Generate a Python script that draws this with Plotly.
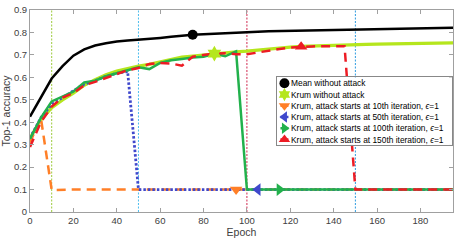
import plotly.graph_objects as go

# ---------------- data ----------------
epochs = [0, 5, 10, 15, 20, 25, 30, 35, 40, 45, 50, 55, 60, 65, 70, 75, 80, 85, 90, 95,
          100, 105, 110, 115, 120, 125, 130, 135, 140, 145, 150, 155, 160, 165, 170, 175, 180, 185, 190, 195]

mean_no_attack = [0.425, 0.51, 0.595, 0.65, 0.697, 0.725, 0.742, 0.752, 0.76, 0.764,
                  0.767, 0.772, 0.776, 0.781, 0.786, 0.79, 0.792, 0.795, 0.798, 0.80,
                  0.802, 0.804, 0.806, 0.807, 0.808, 0.809, 0.81, 0.812, 0.813, 0.814,
                  0.815, 0.816, 0.817, 0.818, 0.819, 0.819, 0.82, 0.82, 0.821, 0.821]

krum_no_attack = [0.33, 0.41, 0.465, 0.50, 0.53, 0.565, 0.59, 0.612, 0.628, 0.64,
                  0.65, 0.658, 0.668, 0.68, 0.69, 0.695, 0.70, 0.706, 0.71, 0.714,
                  0.717, 0.722, 0.727, 0.731, 0.735, 0.738, 0.740, 0.742, 0.744, 0.745,
                  0.746, 0.747, 0.748, 0.749, 0.750, 0.751, 0.752, 0.753, 0.754, 0.754]

krum_attack_10 = [0.31, 0.42, 0.098, 0.1, 0.1, 0.1, 0.1, 0.1, 0.1, 0.1,
                  0.1, 0.1, 0.1, 0.1, 0.1, 0.1, 0.1, 0.1, 0.1, 0.1,
                  0.1, 0.1, 0.1, 0.1, 0.1, 0.1, 0.1, 0.1, 0.1, 0.1,
                  0.1, 0.1, 0.1, 0.1, 0.1, 0.1, 0.1, 0.1, 0.1, 0.1]

krum_attack_50 = [0.33, 0.42, 0.48, 0.51, 0.54, 0.57, 0.585, 0.605, 0.618, 0.627,
                  0.1, 0.1, 0.1, 0.1, 0.1, 0.1, 0.1, 0.1, 0.1, 0.1,
                  0.1, 0.1, 0.1, 0.1, 0.1, 0.1, 0.1, 0.1, 0.1, 0.1,
                  0.1, 0.1, 0.1, 0.1, 0.1, 0.1, 0.1, 0.1, 0.1, 0.1]

krum_attack_100 = [0.326, 0.42, 0.493, 0.515, 0.537, 0.577, 0.585, 0.605, 0.62, 0.632,
                   0.645, 0.637, 0.665, 0.676, 0.682, 0.689, 0.692, 0.705, 0.694, 0.716,
                   0.1, 0.1, 0.1, 0.1, 0.1, 0.1, 0.1, 0.1, 0.1, 0.1,
                   0.1, 0.1, 0.1, 0.1, 0.1, 0.1, 0.1, 0.1, 0.1, 0.1]

krum_attack_150 = [0.29, 0.40, 0.47, 0.51, 0.53, 0.565, 0.58, 0.597, 0.615, 0.632,
                   0.642, 0.66, 0.664, 0.662, 0.652, 0.692, 0.70, 0.706, 0.708, 0.703,
                   0.703, 0.712, 0.72, 0.727, 0.733, 0.737, 0.738, 0.739, 0.739, 0.739,
                   0.1, 0.1, 0.1, 0.1, 0.1, 0.1, 0.1, 0.1, 0.1, 0.1]

series_names = [
    "Mean without attack",
    "Krum without attack",
    "Krum, attack starts at 10th iteration, <i>ϵ</i>=1",
    "Krum, attack starts at 50th iteration, <i>ϵ</i>=1",
    "Krum, attack starts at 100th iteration, <i>ϵ</i>=1",
    "Krum, attack starts at 150th iteration, <i>ϵ</i>=1",
]
series_values = [mean_no_attack, krum_no_attack, krum_attack_10,
                 krum_attack_50, krum_attack_100, krum_attack_150]
marker_epochs = [75, 85, 95, 105, 115, 125]

attack_epochs = [10, 50, 100, 150]

x_ticks = [0, 20, 40, 60, 80, 100, 120, 140, 160, 180]
y_ticks = [0, 0.1, 0.2, 0.3, 0.4, 0.5, 0.6, 0.7, 0.8, 0.9]
y_tick_labels = ["0", "0.1", "0.2", "0.3", "0.4", "0.5", "0.6", "0.7", "0.8", "0.9"]

# ---------------- styles ----------------
colors = ["#000000", "#B5E61D", "#FF7F27", "#3F48CC", "#22B14C", "#ED1C24"]
widths = [2.5, 3.2, 2.5, 2.8, 2.5, 2.5]
dashes = ["solid", "solid", "9px,6px", "2.5px,2px", "solid", "9px,6px"]
symbols = ["circle", "hexagram", "triangle-down", "triangle-left", "triangle-right", "triangle-up"]
marker_sizes = [10, 12, 11, 11, 11, 11]
vline_colors = ["#9CCB3A", "#4DBEEE", "#D0284F", "#2E9BE0"]

FONT = "Liberation Sans, Arial, Helvetica, sans-serif"
AXIS_GRAY = "#a0a0a0"
TEXT_GRAY = "#404040"

fig = go.Figure()

# vertical attack-start lines
for e, c in zip(attack_epochs, vline_colors):
    fig.add_trace(go.Scatter(x=[e, e], y=[y_ticks[0], y_ticks[-1]], mode="lines",
                             line=dict(color=c, width=1, dash="2px,1.5px"),
                             showlegend=False, hoverinfo="skip"))

# series lines
for name, vals, c, w, d in zip(series_names, series_values, colors, widths, dashes):
    fig.add_trace(go.Scatter(x=epochs, y=vals, mode="lines", name=name,
                             line=dict(color=c, width=w, dash=d), showlegend=False))

# single markers on each series
for vals, c, s, ms, me in zip(series_values, colors, symbols, marker_sizes, marker_epochs):
    i = epochs.index(me)
    fig.add_trace(go.Scatter(x=[me], y=[vals[i]], mode="markers",
                             marker=dict(symbol=s, color=c, size=ms, line=dict(width=0)),
                             showlegend=False, hoverinfo="skip"))

# ---------------- legend drawn in a small inset subplot ----------------
rows = list(range(len(series_names)))
for r, c, s in zip(rows, colors, symbols):
    fig.add_trace(go.Scatter(x=[3, 11], y=[r, r], mode="lines", line=dict(color=c, width=2.5),
                             xaxis="x2", yaxis="y2", showlegend=False, hoverinfo="skip"))
    fig.add_trace(go.Scatter(x=[7], y=[r], mode="markers",
                             marker=dict(symbol=s, color=c, size=10, line=dict(width=0)),
                             xaxis="x2", yaxis="y2", showlegend=False, hoverinfo="skip"))
for r, name in zip(rows, series_names):
    fig.add_annotation(x=12, y=r, xref="x2", yref="y2", text=name, showarrow=False,
                       xanchor="left", yanchor="middle",
                       font=dict(family=FONT, size=8.4, color="#000000"))

fig.update_layout(
    width=458, height=240,
    margin=dict(l=30, r=4, t=5, b=28),
    paper_bgcolor="white",
    plot_bgcolor="#ffffff",
    showlegend=False,
    font=dict(family=FONT, color=TEXT_GRAY),
    xaxis=dict(range=[0, 195], tickvals=x_ticks, ticks="inside", ticklen=4,
               tickcolor=AXIS_GRAY, showline=True, linecolor=AXIS_GRAY, linewidth=1,
               mirror="ticks", showgrid=False, zeroline=False,
               tickfont=dict(size=9.5, color=TEXT_GRAY), ticklabeloverflow="allow",
               title=dict(text="Epoch", font=dict(size=10.5, color=TEXT_GRAY), standoff=2)),
    yaxis=dict(range=[0, 0.9004], tickvals=y_ticks, ticktext=y_tick_labels, ticks="inside",
               ticklen=4, tickcolor=AXIS_GRAY, showline=True, linecolor=AXIS_GRAY,
               linewidth=1, mirror="ticks", showgrid=False, zeroline=False,
               tickfont=dict(size=9.5, color=TEXT_GRAY), ticklabeloverflow="allow",
               title=dict(text="Top-1 accuracy", font=dict(size=10.5, color=TEXT_GRAY), standoff=2)),
    xaxis2=dict(domain=[0.585, 0.998], range=[0, 175], anchor="y2", showline=True,
                mirror=True, linecolor="#888888", linewidth=0.8, showticklabels=False,
                ticks="", showgrid=False, zeroline=False, fixedrange=True),
    yaxis2=dict(domain=[0.332, 0.666], range=[5.48, -0.52], anchor="x2", showline=True,
                mirror=True, linecolor="#888888", linewidth=0.8, showticklabels=False,
                ticks="", showgrid=False, zeroline=False, fixedrange=True),
)

fig.write_html("out.html", config={"displayModeBar": False},
               post_script="document.body.style.margin='0px';")
